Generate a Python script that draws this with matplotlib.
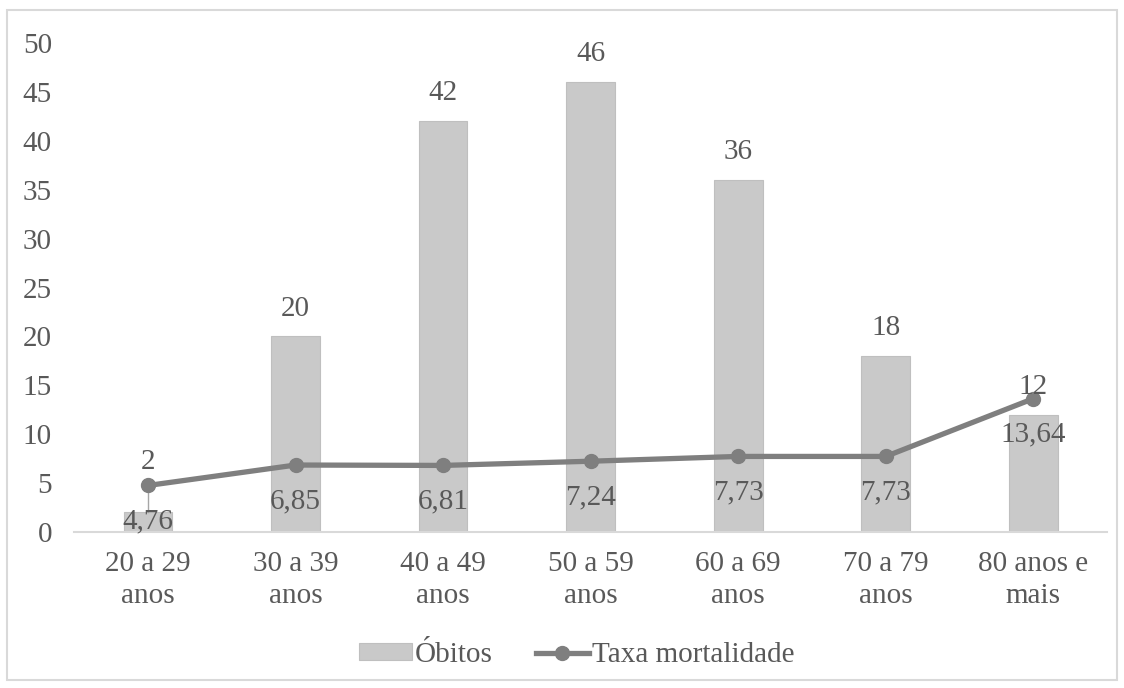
import numpy as np
import matplotlib.pyplot as plt
from matplotlib.patches import Rectangle

plt.rcParams['font.family'] = ['Liberation Serif', 'DejaVu Serif']

# data
faixas = ['20 a 29\nanos', '30 a 39\nanos', '40 a 49\nanos', '50 a 59\nanos',
          '60 a 69\nanos', '70 a 79\nanos', '80 anos e\nmais']
obitos = [2, 20, 42, 46, 36, 18, 12]
taxa = [4.76, 6.85, 6.81, 7.24, 7.73, 7.73, 13.64]

txt = '#595959'
bar_col = '#c9c9c9'
line_col = '#7f7f7f'
fs = 21

fig = plt.figure(figsize=(11.24, 6.88), dpi=100)
ax = fig.add_axes([0.066, 0.2267, 0.919, 0.7108])

x = np.arange(len(faixas))
bars = ax.bar(x, obitos, width=0.33, color=bar_col, edgecolor='#bfbfbf', linewidth=0.8,
              label='Óbitos', zorder=2)
line, = ax.plot(x, taxa, color=line_col, linewidth=3.8, marker='o', markersize=10,
                label='Taxa mortalidade', zorder=3)

# labels for the bars (above), first one pushed up with leader line
for i, v in enumerate(obitos):
    if i == 0:
        ax.annotate(str(v), xy=(x[i], v), xytext=(0, 36), textcoords='offset points',
                    ha='center', va='center', fontsize=fs, color=txt, zorder=4)
        ax.plot([x[i], x[i]], [v, taxa[i]], color='#a6a6a6', linewidth=1, zorder=2)
    else:
        ax.annotate(str(v), xy=(x[i], v), xytext=(0, 20), textcoords='offset points',
                    ha='center', va='center', fontsize=fs, color=txt, zorder=4)

# labels for the line (below points)
for i, v in enumerate(taxa):
    ax.annotate(f'{v:.2f}'.replace('.', ','), xy=(x[i], v), xytext=(0, -26),
                textcoords='offset points', ha='center', va='center',
                fontsize=fs, color=txt, zorder=4)

ax.set_xlim(-0.5, len(faixas) - 0.5)
ax.set_ylim(0, 50)
ax.set_yticks(range(0, 51, 5))
ax.set_xticks(x)
ax.set_xticklabels(faixas, linespacing=1.3)
ax.tick_params(axis='both', length=0, labelsize=fs, labelcolor=txt)
ax.tick_params(axis='y', pad=16)
ax.tick_params(axis='x', pad=14)

for s in ['top', 'right', 'left']:
    ax.spines[s].set_visible(False)
ax.spines['bottom'].set_color('#d9d9d9')
ax.spines['bottom'].set_linewidth(1.5)

fig.legend([bars, line], ['Óbitos', 'Taxa mortalidade'], loc='center',
           bbox_to_anchor=(0.513, 0.048), ncol=2, frameon=False,
           fontsize=fs, handlelength=1.8, handleheight=0.5, handletextpad=0.1,
           columnspacing=1.5, labelcolor=txt)

fig.patches.append(Rectangle((0.006, 0.012), 0.988, 0.973, transform=fig.transFigure,
                             fill=False, edgecolor='#d9d9d9', linewidth=1.5))

fig.savefig('out.png', dpi=100)
